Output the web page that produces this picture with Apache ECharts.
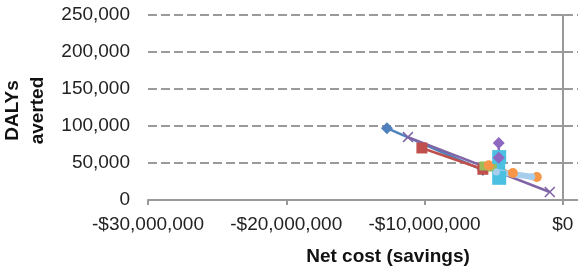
<!DOCTYPE html>
<html>
<head>
<meta charset="utf-8">
<script src="https://cdn.jsdelivr.net/npm/echarts@6/dist/echarts.min.js"></script>
<style>
  html, body { margin: 0; padding: 0; background: #fff; }
  #main { width: 578px; height: 268px; }
</style>
</head>
<body>
<div id="main"></div>
<script>
// tick values
var xTicks = [-30000000, -20000000, -10000000, 0];
var yTicks = [0, 50000, 100000, 150000, 200000, 250000];

// each scenario: [net cost, DALYs averted]
var blueDiamond = [[-12720000, 97000], [-5780000, 40500]];
var redSquare = [[-10190000, 70300], [-5780000, 41500]];
var purpleCross = [[-11200000, 85000], [-940000, 10800]];
var greenTri = [[-5700000, 46000], [-5100000, 44500]];
var orangeDot = [[-5350000, 47000], [-3610000, 36500], [-1880000, 31000]];
var aquaSquare = [[-4600000, 58000], [-4600000, 30000]];
var violetDiamond = [[-4630000, 77000], [-4630000, 57000]];
var lightBlue = [[-4800000, 38000], [-2240000, 31500]];

var myChart = echarts.init(document.getElementById('main'));

var crossPath = 'path://M0,1L1,0L5,4L9,0L10,1L6,5L10,9L9,10L5,6L1,10L0,9L4,5Z';

function mk(name, data, color, symbol, size, width) {
  return {
    name: name,
    type: 'line',
    data: data,
    symbol: symbol,
    symbolSize: size,
    showAllSymbol: true,
    itemStyle: { color: color },
    lineStyle: { color: color, width: width || 2.5 },
    z: 3
  };
}

var fontFam = 'Liberation Sans, Arial, sans-serif';

var option = {
  animation: false,
  grid: { left: 148, right: 0, top: 15, bottom: 68, containLabel: false, outerBoundsMode: 'none' },
  xAxis: {
    type: 'value',
    min: -30000000,
    max: 1100000,
    name: 'Net cost (savings)',
    nameLocation: 'middle',
    nameGap: 47,
    nameTextStyle: { fontFamily: fontFam, fontSize: 19, fontWeight: 'bold', color: '#111', padding: [0, 0, 0, 50] },
    axisLine: { onZero: false, lineStyle: { color: '#999', width: 2 } },
    axisTick: { show: true, length: 5, customValues: xTicks, lineStyle: { color: '#999', width: 2 } },
    axisLabel: {
      customValues: xTicks,
      margin: 15,
      fontFamily: fontFam, fontSize: 19, color: '#222',
      formatter: function (v) {
        var s = '$' + Math.abs(v).toLocaleString('en-US');
        return v < 0 ? '-' + s : s;
      }
    },
    splitLine: { show: false }
  },
  yAxis: [{
    type: 'value',
    min: 0,
    max: 250000,
    interval: 50000,
    name: 'DALYs\naverted',
    nameLocation: 'middle',
    nameRotate: 90,
    nameGap: 88,
    nameTextStyle: { fontFamily: fontFam, fontSize: 19, fontWeight: 'bold', color: '#111', lineHeight: 25, align: 'center', padding: [0, 6, 0, 0] },
    axisLine: { show: false, onZero: false },
    axisTick: { show: false },
    axisLabel: {
      margin: 18,
      fontFamily: fontFam, fontSize: 19, color: '#222',
      formatter: function (v) { return v.toLocaleString('en-US'); }
    },
    splitLine: { show: true, lineStyle: { color: '#9a9a9a', width: 2, type: [9, 4] } }
  }, {
    // the vertical axis line that crosses at $0
    type: 'value',
    position: 'right',
    offset: -15,
    min: 0,
    max: 250000,
    interval: 50000,
    axisLine: { show: true, onZero: false, lineStyle: { color: '#999', width: 2 } },
    axisTick: { show: true, inside: true, length: 4, lineStyle: { color: '#999', width: 2 } },
    axisLabel: { show: false },
    splitLine: { show: false }
  }],
  series: [
    mk('A', blueDiamond, '#4F81BD', 'diamond', 12),
    mk('B', redSquare, '#C0504D', 'rect', 11),
    mk('C', purpleCross, '#7F64A6', crossPath, 11),
    mk('D', greenTri, '#9BBB59', 'rect', 9),
    mk('E', orangeDot, '#F79646', 'circle', 10),
    mk('F', aquaSquare, '#4BC0E0', 'rect', 14, 12),
    mk('G', violetDiamond, '#8D67C0', 'diamond', 12),
    mk('H', lightBlue, '#A6CDEB', 'circle', 7, 6)
  ]
};
myChart.setOption(option);
</script>
</body>
</html>
